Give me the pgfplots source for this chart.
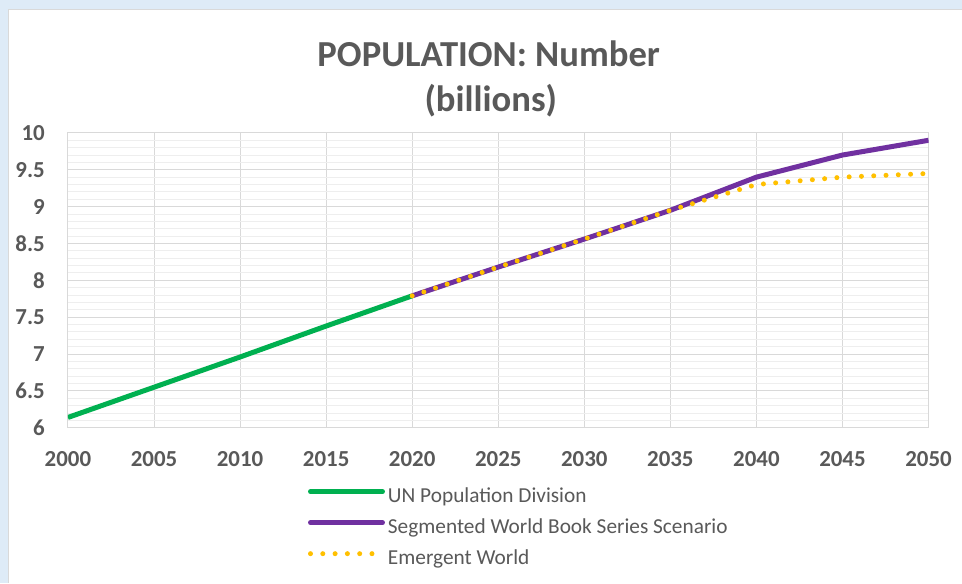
\documentclass[border=0pt]{standalone}
\usepackage{fontspec}
\setmainfont{Carlito}
\usepackage{pgfplots}
\pgfplotsset{compat=1.18}

\definecolor{bgblue}{HTML}{DEEBF7}
\definecolor{txtgray}{HTML}{595959}
\definecolor{gridmaj}{HTML}{D9D9D9}
\definecolor{gridmin}{HTML}{EEEEEE}
\definecolor{unGreen}{HTML}{00B050}
\definecolor{swPurple}{HTML}{7030A0}
\definecolor{ewGold}{HTML}{FFC000}

\begin{document}
\begin{tikzpicture}
% frame: light blue band with white chart area
\begin{scope}[x=1bp,y=1bp]
\fill[bgblue] (0,0) rectangle (962,583);
\fill[white] (9,0) rectangle (962,573);
\draw[gridmaj, line width=1bp] (8.5,0) -- (8.5,573.5) -- (962,573.5);
\useasboundingbox (0,0) rectangle (962,583);
\node[anchor=base, inner sep=0pt, text=txtgray,
      font=\fontsize{36.8}{40}\selectfont\bfseries] at (489,516) {POPULATION: Number};
\node[anchor=base, inner sep=0pt, text=txtgray,
      font=\fontsize{36.8}{40}\selectfont\bfseries] at (491,471) {(billions)};
\end{scope}

\begin{axis}[
    at={(68bp,155bp)}, anchor=south west,
    scale only axis,
    width=861bp, height=295bp,
    xmin=2000, xmax=2050,
    ymin=6, ymax=10,
    xtick={2000,2005,...,2050},
    ytick={6,6.5,...,10},
    minor y tick num=4,
    xmajorgrids, ymajorgrids, yminorgrids,
    major grid style={draw=gridmaj, line width=1bp},
    minor grid style={draw=gridmin, line width=1bp},
    axis line style={draw=gridmaj, line width=1bp},
    major tick length=0pt, minor tick length=0pt,
    /pgf/number format/assume math mode=true,
    /pgf/number format/1000 sep={},
    tick label style={text=txtgray, font=\fontsize{23}{26}\selectfont\bfseries, inner sep=0pt},
    xticklabel style={anchor=north, yshift=-24bp},
    yticklabel style={anchor=east, xshift=-23bp},
    legend cell align=left,
    legend style={
        at={(axis description cs:0.2787,-0.206)}, anchor=north west,
        draw=none, fill=none, inner sep=0pt,
        font=\fontsize{21.4}{24}\selectfont, text=txtgray,
        row sep=13bp,
        nodes={inner sep=0pt, text height=14bp, text depth=4bp},
        /tikz/every odd column/.append style={column sep=3bp},
    },
    legend image code/.code={
        \draw[#1, line cap=round] (0bp,6bp) -- (72bp,6bp);
    },
]
\addplot[unGreen, line width=5bp] coordinates {
    (2000,6.14) (2005,6.55) (2010,6.96) (2015,7.38) (2020,7.79)
};
\addlegendentry{UN Population Division}

\addplot[swPurple, line width=5bp] coordinates {
    (2020,7.79) (2025,8.18) (2030,8.56) (2035,8.95) (2040,9.40) (2045,9.70) (2050,9.90)
};
\addlegendentry{Segmented World Book Series Scenario}

\addplot[ewGold, line width=5bp, line cap=round, dash pattern=on 0bp off 12.3bp] coordinates {
    (2020,7.79) (2025,8.18) (2030,8.56) (2035,8.95) (2040,9.30) (2045,9.40) (2050,9.45)
};
\addlegendentry{Emergent World}
\end{axis}
\end{tikzpicture}
\end{document}
